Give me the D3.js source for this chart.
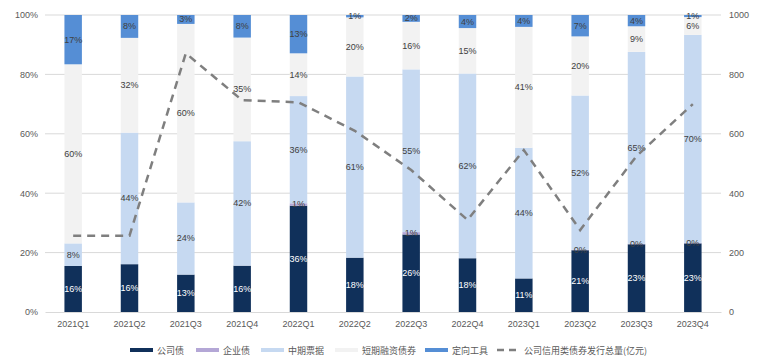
<!DOCTYPE html>
<html>
<head>
<meta charset="utf-8">
<script src="https://cdn.jsdelivr.net/npm/d3@7"></script>
<style>
  body { margin: 0; background: #fff; }
  svg text { font-family: "Liberation Sans", "Noto Sans CJK SC", sans-serif; }
</style>
</head>
<body>
<svg width="763" height="361"></svg>
<script>
var quarters = ["2021Q1","2021Q2","2021Q3","2021Q4","2022Q1","2022Q2","2022Q3","2022Q4","2023Q1","2023Q2","2023Q3","2023Q4"];
var seriesNames = ["公司债","企业债","中期票据","短期融资债券","定向工具"];
var gongsi   = [15.5, 16.1, 12.6, 15.6, 35.8, 18.3, 26.1, 18.1, 11.3, 20.8, 22.8, 23.1];
var qiye     = [null, null, null, null, 0.8, null, 0.8, null, null, 0.2, 0.2, 0.2];
var zhongqi  = [7.6, 44.3, 24.3, 41.9, 36.1, 61.0, 54.8, 62.2, 44.0, 51.9, 64.6, 70.0];
var duanrong = [60.3, 31.9, 60.1, 34.9, 14.4, 19.9, 16.0, 15.3, 40.7, 19.9, 8.6, 6.0];
var dingxiang= [16.6, 7.7, 3.0, 7.6, 12.9, 0.8, 2.3, 4.4, 4.0, 7.2, 3.8, 0.7];
var total    = [257, 257, 871, 713, 706, 610, 478, 310, 545, 276, 525, 700];
var lineName = "公司信用类债券发行总量(亿元)";

var colors = ["#10305a", "#b4a7d6", "#c6d9f1", "#f2f2f2", "#558ed5"];
var labelColors = ["#ffffff", "#404040", "#404040", "#404040", "#404040"];

var svg = d3.select("svg");
var plotL = 45, plotR = 721, plotT = 15, plotB = 312;

var x = d3.scaleBand().domain(quarters).range([plotL, plotR]).paddingInner(0.69).paddingOuter(0.345);
var y = d3.scaleLinear().domain([0, 100]).range([plotB, plotT]);
var y2 = d3.scaleLinear().domain([0, 1000]).range([plotB, plotT]);

// gridlines
svg.append("g").selectAll("line")
  .data([20,40,60,80,100])
  .enter().append("line")
  .attr("x1", plotL).attr("x2", plotR)
  .attr("y1", function(d){ return y(d); }).attr("y2", function(d){ return y(d); })
  .attr("stroke", "#d9d9d9").attr("stroke-width", 1);

// left axis
var yAxis = svg.append("g")
  .attr("transform", "translate(" + plotL + ",0)")
  .call(d3.axisLeft(y).tickValues([0,20,40,60,80,100]).tickFormat(function(d){ return d + "%"; }).tickSize(0).tickPadding(7));
yAxis.select(".domain").remove();
yAxis.selectAll("text").attr("fill", "#595959").style("font-size", "9px");

// right axis
var y2Axis = svg.append("g")
  .attr("transform", "translate(" + plotR + ",0)")
  .call(d3.axisRight(y2).tickValues([0,200,400,600,800,1000]).tickFormat(d3.format("d")).tickSize(0).tickPadding(8));
y2Axis.select(".domain").remove();
y2Axis.selectAll("text").attr("fill", "#595959").style("font-size", "9px");

// x axis
var xAxis = svg.append("g")
  .attr("transform", "translate(0," + plotB + ")")
  .call(d3.axisBottom(x).tickSize(0).tickPadding(9));
xAxis.select(".domain").attr("stroke", "#d9d9d9");
xAxis.selectAll("text").attr("fill", "#595959").style("font-size", "9px");

// stacked data
var rows = quarters.map(function(q, i){
  return { q: q, vals: [gongsi[i], qiye[i], zhongqi[i], duanrong[i], dingxiang[i]] };
});
var segs = [];
rows.forEach(function(r){
  var acc = 0;
  r.vals.forEach(function(v, k){
    if (v === null) return;
    segs.push({ q: r.q, k: k, v: v, y0: acc, y1: acc + v });
    acc += v;
  });
});

svg.append("g").selectAll("rect")
  .data(segs)
  .enter().append("rect")
  .attr("x", function(d){ return x(d.q); })
  .attr("width", x.bandwidth())
  .attr("y", function(d){ return y(d.y1); })
  .attr("height", function(d){ return y(d.y0) - y(d.y1); })
  .attr("fill", function(d){ return colors[d.k]; });

svg.append("g").selectAll("text")
  .data(segs)
  .enter().append("text")
  .attr("x", function(d){ return x(d.q) + x.bandwidth() / 2; })
  .attr("y", function(d){ return y((d.y0 + d.y1) / 2) + 3; })
  .attr("text-anchor", "middle")
  .attr("fill", function(d){ return labelColors[d.k]; })
  .style("font-size", "9px")
  .text(function(d){ return Math.round(d.v) + "%"; });

// total line
var line = d3.line()
  .x(function(d, i){ return x(quarters[i]) + x.bandwidth() / 2; })
  .y(function(d){ return y2(d); });
svg.append("path")
  .datum(total)
  .attr("d", line)
  .attr("fill", "none")
  .attr("stroke", "#7f7f7f")
  .attr("stroke-width", 2.5)
  .attr("stroke-dasharray", "8,6");

// legend
var legendX = [130, 196, 261, 335, 425, 497];
var legend = svg.append("g");
seriesNames.forEach(function(name, k){
  legend.append("rect")
    .attr("x", legendX[k]).attr("y", 348)
    .attr("width", 23).attr("height", 4)
    .attr("fill", colors[k]);
  legend.append("text")
    .attr("x", legendX[k] + 27).attr("y", 353.5)
    .attr("fill", "#595959")
    .style("font-size", "9px")
    .style("font-family", "Noto Sans CJK SC")
    .text(name);
});
legend.append("line")
  .attr("x1", 497).attr("x2", 520).attr("y1", 350).attr("y2", 350)
  .attr("stroke", "#7f7f7f").attr("stroke-width", 2.5).attr("stroke-dasharray", "7,5");
legend.append("text")
  .attr("x", 524).attr("y", 353.5)
  .attr("fill", "#595959")
  .style("font-size", "9px")
  .style("font-family", "Noto Sans CJK SC")
  .text(lineName);
</script>
</body>
</html>
